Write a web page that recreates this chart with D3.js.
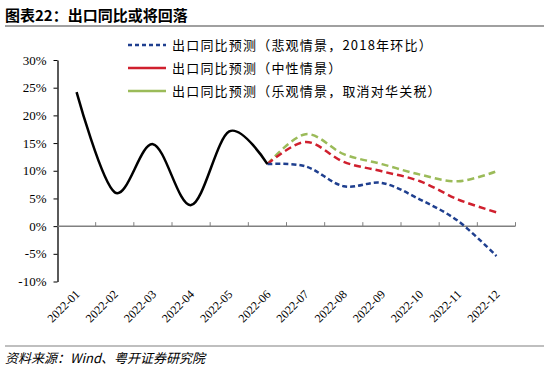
<!DOCTYPE html>
<html>
<head>
<meta charset="utf-8">
<script src="https://cdn.jsdelivr.net/npm/d3@7"></script>
<style>
  body { margin: 0; background: #fff; }
  svg { display: block; }
</style>
</head>
<body>
<div id="chart"></div>
<script>
const months = ["2022-01", "2022-02", "2022-03", "2022-04", "2022-05", "2022-06",
                "2022-07", "2022-08", "2022-09", "2022-10", "2022-11", "2022-12"];
const actualMonths = months.slice(0, 6);
const actualValues = [24.2, 6.1, 14.8, 3.8, 17.1, 11.2];
const forecastMonths = months.slice(5);
const pessimisticValues = [11.2, 10.8, 7.2, 7.8, 4.8, 0.9, -5.4];
const neutralValues = [11.2, 15.2, 11.6, 9.9, 8.1, 4.8, 2.5];
const optimisticValues = [11.2, 16.6, 13.0, 11.2, 9.3, 8.1, 9.9];
const yTicks = [-10, -5, 0, 5, 10, 15, 20, 25, 30];

const legendItems = [
  { label: "出口同比预测（悲观情景，2018年环比）", color: "#1f3f8f", dash: "4,3" },
  { label: "出口同比预测（中性情景）", color: "#d0202e", dash: null },
  { label: "出口同比预测（乐观情景，取消对华关税）", color: "#9bbb59", dash: null }
];

const W = 550, H = 375;
const svg = d3.select("#chart").append("svg")
  .attr("width", W).attr("height", H);

// title
svg.append("text")
  .attr("x", 5).attr("y", 21)
  .style("font-family", "'Noto Sans CJK SC', sans-serif")
  .style("font-size", "15px")
  .style("font-weight", "bold")
  .text("图表22：出口同比或将回落");
svg.append("line")
  .attr("x1", 5).attr("x2", 544).attr("y1", 26).attr("y2", 26)
  .attr("stroke", "#a0a0a0").attr("stroke-width", 2);

const x = d3.scaleBand().domain(months).range([57.5, 515.5]).padding(0);
const cx = d => x(d) + x.bandwidth() / 2;
const y = d3.scaleLinear().domain([-10, 30]).range([281.5, 60]);

// y axis
const yAxis = svg.append("g")
  .attr("transform", "translate(57.5,0)")
  .call(d3.axisLeft(y).tickValues(yTicks).tickSize(4).tickSizeOuter(0)
    .tickFormat(d => d + "%"));
yAxis.select(".domain").attr("stroke", "#000").attr("stroke-width", 1.3);
yAxis.selectAll(".tick line").attr("stroke", "#000");
yAxis.selectAll(".tick text")
  .attr("x", -11)
  .style("font-family", "'Liberation Serif', serif")
  .style("font-size", "13px")
  .attr("fill", "#000");

// zero line with inside ticks at category boundaries
const y0 = y(0);
svg.append("line")
  .attr("x1", 57.5).attr("x2", 515.5).attr("y1", y0).attr("y2", y0)
  .attr("stroke", "#808080").attr("stroke-width", 1.5);
svg.selectAll("line.xtick")
  .data(months.slice(1).concat(["end"]))
  .enter().append("line")
  .attr("class", "xtick")
  .attr("x1", d => d === "end" ? 515.5 : x(d))
  .attr("x2", d => d === "end" ? 515.5 : x(d))
  .attr("y1", y0).attr("y2", y0 - 4)
  .attr("stroke", "#808080").attr("stroke-width", 1);

// x labels, rotated
svg.selectAll("text.xlabel")
  .data(months)
  .enter().append("text")
  .attr("class", "xlabel")
  .attr("text-anchor", "end")
  .attr("transform", d => `translate(${cx(d) + 4},${295}) rotate(-45)`)
  .style("font-family", "'Liberation Serif', serif")
  .style("font-size", "12px")
  .text(d => d);

const line = d3.line()
  .x(d => cx(d[0]))
  .y(d => y(d[1]))
  .curve(d3.curveCardinal.tension(0));

const forecasts = [
  { values: optimisticValues, color: "#9bbb59", dash: "7,4" },
  { values: neutralValues, color: "#d0202e", dash: "7,4" },
  { values: pessimisticValues, color: "#1f3f8f", dash: "5,3" }
];

forecasts.forEach(f => {
  svg.append("path")
    .datum(d3.zip(forecastMonths, f.values))
    .attr("d", line)
    .attr("fill", "none")
    .attr("stroke", f.color)
    .attr("stroke-width", 2.5)
    .attr("stroke-dasharray", f.dash);
});

svg.append("path")
  .datum(d3.zip(actualMonths, actualValues))
  .attr("d", line)
  .attr("fill", "none")
  .attr("stroke", "#000")
  .attr("stroke-width", 2.5);

// legend
const legend = svg.append("g");
legendItems.forEach((item, i) => {
  const ly = 45 + i * 23;
  legend.append("line")
    .attr("x1", 128).attr("x2", 166).attr("y1", ly).attr("y2", ly)
    .attr("stroke", item.color).attr("stroke-width", 2.5)
    .attr("stroke-dasharray", item.dash);
  legend.append("text")
    .attr("x", 172).attr("y", ly + 4.5)
    .style("font-family", "'Noto Sans CJK SC', sans-serif")
    .style("font-size", "13px")
    .style("letter-spacing", "1.2px")
    .text(item.label);
});

// footer
svg.append("line")
  .attr("x1", 5).attr("x2", 544).attr("y1", 346).attr("y2", 346)
  .attr("stroke", "#bfbfbf").attr("stroke-width", 2);
svg.append("text")
  .attr("x", 5).attr("y", 363)
  .style("font-family", "'Noto Sans CJK SC', sans-serif")
  .style("font-size", "13px")
  .style("font-style", "italic")
  .text("资料来源：Wind、粤开证券研究院");
</script>
</body>
</html>
